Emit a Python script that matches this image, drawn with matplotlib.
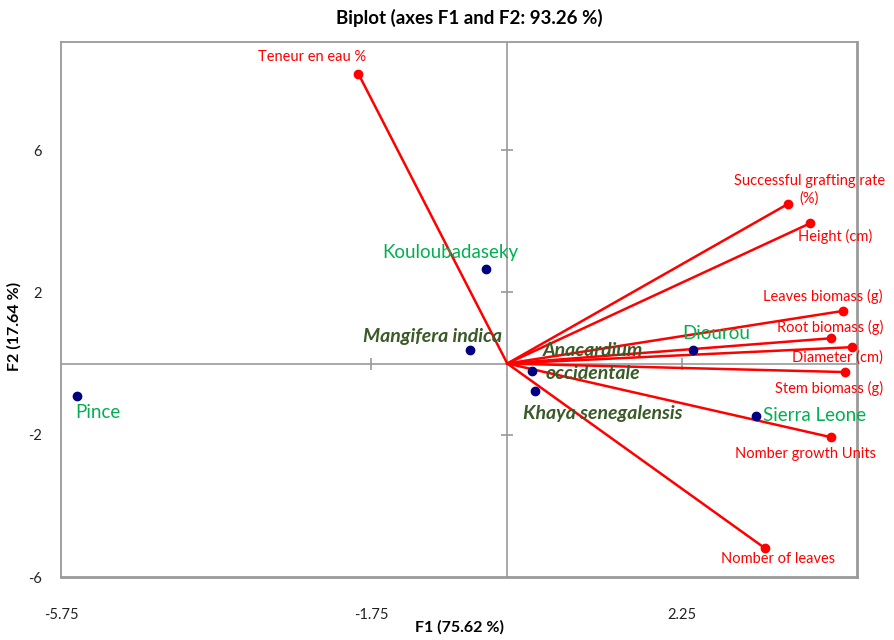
import matplotlib
matplotlib.use("Agg")
import matplotlib.pyplot as plt

# ---- data ----
obs_names = ["Pince", "Kouloubadaseky", "Mangifera indica", "Anacardium\noccidentale",
             "Khaya senegalensis", "Diourou", "Sierra Leone"]
obs_f1 = [-5.55, -0.28, -0.48, 0.32, 0.36, 2.39, 3.21]
obs_f2 = [-0.92, 2.67, 0.39, -0.21, -0.76, 0.39, -1.48]
obs_species = [False, False, True, True, True, False, False]

var_names = ["Teneur en eau %", "Successful grafting rate\n(%)", "Height (cm)",
             "Leaves biomass (g)", "Root biomass (g)", "Diameter (cm)",
             "Stem biomass (g)", "Nomber growth Units", "Nomber of leaves"]
var_f1 = [-1.92, 3.62, 3.90, 4.33, 4.17, 4.44, 4.35, 4.17, 3.32]
var_f2 = [8.15, 4.49, 3.94, 1.48, 0.71, 0.46, -0.24, -2.07, -5.19]

x_ticks = [-5.75, -1.75, 2.25]
y_ticks = [-6, -2, 2, 6]

# ---- label placement (data-space offsets from the point) ----
obs_lab_off = [(0.28, -0.45), (-0.46, 0.46), (-0.48, 0.38), (0.78, 0.25),
               (0.87, -0.64), (0.30, 0.46), (0.75, 0.03)]
var_lab_off = [(-0.60, 0.46), (0.27, 0.38), (0.33, -0.37), (-0.26, 0.41),
               (-0.01, 0.31), (-0.19, -0.28), (-0.21, -0.46), (-0.33, -0.46),
               (0.17, -0.29)]

plt.rcParams['font.family'] = ['Lato', 'DejaVu Sans']

fig = plt.figure(figsize=(8.95, 6.4), dpi=100)
ax = fig.add_axes([0.0682, 0.0984, 0.957 - 0.0682, 0.934 - 0.0984])
ax.set_xlim(-5.75, 4.5)
ax.set_ylim(-6, 9.03)

grey = "#9a9a9a"
for s in ax.spines.values():
    s.set_color(grey)
    s.set_linewidth(1.3)
ax.spines['right'].set_linewidth(2.0)
ax.spines['bottom'].set_linewidth(2.0)

ax.set_xticks(x_ticks)
ax.set_yticks(y_ticks)
ax.set_xticklabels(["-5.75", "-1.75", "2.25"])
ax.set_yticklabels(["-6", "-2", "2", "6"])
ax.tick_params(axis='both', length=0, labelsize=10.5, colors='#222222')
ax.tick_params(axis='x', pad=22)
ax.tick_params(axis='y', pad=14)

# zero lines with crossing ticks
ax.axhline(0, color=grey, lw=1.2, zorder=1)
ax.axvline(0, color=grey, lw=1.2, zorder=1)
ax.plot([t for t in x_ticks if t > -5.75], [0] * 2, ls='none', marker='|',
        ms=9, mew=1.2, color=grey, zorder=1)
ax.plot([0] * 3, [t for t in y_ticks if t > -6], ls='none', marker='_',
        ms=9, mew=1.2, color=grey, zorder=1)

# vectors
for i, name in enumerate(var_names):
    ax.plot([0, var_f1[i]], [0, var_f2[i]], color='#ff0000', lw=1.8, zorder=3)
    ax.plot(var_f1[i], var_f2[i], 'o', color='#ff0000', ms=6, zorder=4)
    dx, dy = var_lab_off[i]
    ax.text(var_f1[i] + dx, var_f2[i] + dy, name, color='#ff0000', fontsize=10.5,
            ha='center', va='center', linespacing=1.3, zorder=5)

# observations
for i, name in enumerate(obs_names):
    ax.plot(obs_f1[i], obs_f2[i], 'o', color='#000080', ms=6, zorder=4)
    dx, dy = obs_lab_off[i]
    if obs_species[i]:
        ax.text(obs_f1[i] + dx, obs_f2[i] + dy, name, color='#3a5a28', fontsize=14,
                fontweight='bold', fontstyle='italic', ha='center', va='center',
                linespacing=1.4, zorder=5)
    else:
        ax.text(obs_f1[i] + dx, obs_f2[i] + dy, name, color='#00b050', fontsize=13.5,
                ha='center', va='center', zorder=5)

fig.text(0.524, 0.972, "Biplot (axes F1 and F2: 93.26 %)",
         ha='center', va='center', fontsize=13.5, fontweight='bold')
fig.text(0.513, 0.02, "F1 (75.62 %)", ha='center', va='center', fontsize=11.5,
         fontweight='bold')
fig.text(0.016, 0.49, "F2 (17.64 %)", ha='center', va='center', fontsize=11.5,
         fontweight='bold', rotation=90)

fig.savefig("out.png", dpi=100)
